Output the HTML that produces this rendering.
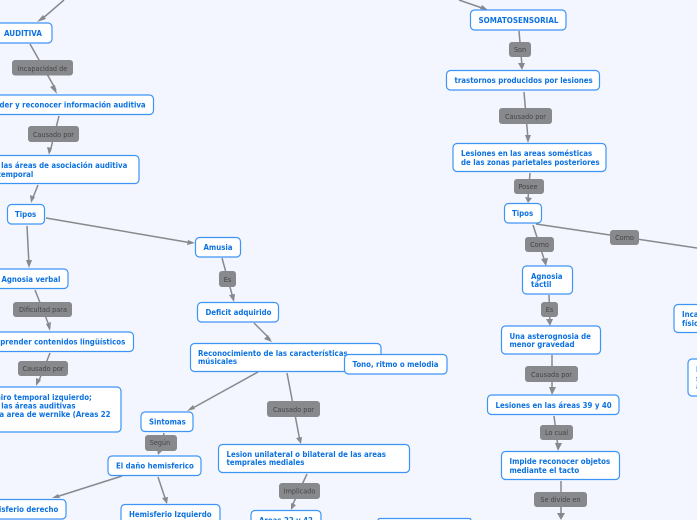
<!DOCTYPE html>
<html><head><meta charset="utf-8">
<style>
html,body{margin:0;padding:0;width:697px;height:520px;overflow:hidden;background:#f3f6ff}
svg{position:absolute;left:0;top:0;overflow:hidden}
.n{fill:#fff;stroke:#3d94f6;stroke-width:1.2}
.t{font-family:"DejaVu Sans",sans-serif;font-weight:bold;font-size:7.8px;fill:#0d72e0}
.t text{transform-box:fill-box;transform-origin:0 0;transform:scaleX(.9)}
.t text.caps{transform:scaleX(.92)}
.l{fill:#88898c}
.x{font-family:"DejaVu Sans",sans-serif;font-size:7px;fill:#444;text-anchor:middle}
.x text{transform-box:fill-box;transform-origin:50% 0;transform:scaleX(.93)}
.c{stroke:#88898c;stroke-width:1.5;fill:none}
.a{fill:#88898c}
</style></head><body>
<svg width="697" height="520" viewBox="0 0 697 520" xmlns="http://www.w3.org/2000/svg">
<g class="c">
<path d="M64 0L42 19"/><path d="M30 44L56 90"/><path d="M59 116L50 152"/><path d="M38 185L32 200"/>
<path d="M46 218L192 243"/><path d="M27 226L29 265"/><path d="M35 290L50 328"/><path d="M50 353L38 383"/>
<path d="M222 258L233 298"/><path d="M254 323L270 339"/><path d="M258 372L191 409"/><path d="M287 373L300 441"/>
<path d="M164 433L160 452"/><path d="M122 476L56 497"/><path d="M158 477L166 501"/><path d="M307 474L292 506"/>
<path d="M459 0L485 9"/><path d="M519 31L522 66"/><path d="M524 92L528 139"/><path d="M530 173L528 199"/>
<path d="M533 225L545 262"/><path d="M536 224L697 248"/><path d="M549 295L550 322"/><path d="M552 355L552 391"/>
<path d="M554 416L558 447"/><path d="M561 481L561 516"/>
</g>
<g class="a">
<polygon points="37,22 43,15 46,19"/><polygon points="57,94 50,87 55,85"/><polygon points="49,155 47,147 52,148"/>
<polygon points="31,203 30,195 35,197"/><polygon points="195,243 187,245 188,240"/><polygon points="29,268 26,260 32,260"/>
<polygon points="50,331 46,324 51,322"/><polygon points="36,386 36,378 41,380"/><polygon points="234,302 229,295 235,294"/>
<polygon points="272,342 264,339 268,335"/><polygon points="187,411 193,405 195,409"/><polygon points="301,444 296,438 302,437"/>
<polygon points="158,455 157,449 163,450"/><polygon points="52,498 58,494 60,498"/><polygon points="167,504 162,498 168,497"/>
<polygon points="291,510 291,503 296,505"/><polygon points="488,10 480,9 482,5"/><polygon points="522,70 518,63 525,63"/>
<polygon points="528,143 525,135 531,135"/><polygon points="528,203 525,197 532,198"/><polygon points="546,266 541,259 548,258"/>
<polygon points="550,326 546,319 553,319"/><polygon points="552,395 549,387 556,387"/><polygon points="558,451 555,443 562,443"/>
<polygon points="561,520 557,513 565,513"/>
</g>
<g class="l">
<rect x="12" y="60" width="61" height="15.500" rx="3"/><rect x="28" y="126" width="51" height="16" rx="3"/>
<rect x="13" y="302" width="59" height="15" rx="3"/><rect x="18" y="361" width="50" height="15" rx="3"/>
<rect x="219" y="271" width="17" height="16" rx="3"/><rect x="267" y="401" width="53" height="16" rx="3"/>
<rect x="145" y="435" width="32" height="16" rx="3"/><rect x="279" y="483" width="41" height="16" rx="3"/>
<rect x="509" y="42" width="22" height="15" rx="3"/><rect x="499" y="108" width="53" height="16" rx="3"/>
<rect x="514" y="179" width="30" height="15" rx="3"/><rect x="525" y="237" width="29" height="15" rx="3"/>
<rect x="610" y="230" width="29" height="15" rx="3"/><rect x="541" y="302" width="17" height="15" rx="3"/>
<rect x="525" y="366" width="53" height="16" rx="3"/><rect x="540" y="425" width="33" height="15" rx="3"/>
<rect x="534" y="492" width="53" height="15" rx="3"/>
</g>
<g class="x">
<text x="42.500" y="71">Incapacidad de</text><text x="53.500" y="137">Causado por</text>
<text x="43" y="312">Dificultad para</text><text x="43" y="371">Causado por</text>
<text x="227.500" y="282">Es</text><text x="293.500" y="412">Causado por</text>
<text x="160" y="445">Según</text><text x="299.500" y="493.500">Implicado</text>
<text x="520" y="52">Son</text><text x="525.500" y="119">Causado por</text>
<text x="528" y="189">Posee</text><text x="539.500" y="247">Como</text>
<text x="624.500" y="240">Como</text><text x="549.500" y="312">Es</text>
<text x="551.500" y="377">Causada por</text><text x="556.500" y="435">Lo cual</text>
<text x="560.500" y="502">Se divide en</text>
</g>
<g class="n">
<rect x="-20" y="23" width="72" height="20" rx="4"/><rect x="-40" y="95" width="193.500" height="19.500" rx="4"/>
<rect x="-60" y="155.500" width="199" height="28" rx="4"/><rect x="7.500" y="204.500" width="37" height="19.500" rx="4"/>
<rect x="195.500" y="237.500" width="45" height="19.500" rx="4"/><rect x="-30" y="269" width="98" height="19.500" rx="4"/>
<rect x="-40" y="332" width="173.500" height="19.500" rx="4"/><rect x="-60" y="387" width="181" height="45" rx="4"/>
<rect x="141" y="412" width="52" height="19.500" rx="4"/><rect x="108" y="456" width="93" height="19.500" rx="4"/>
<rect x="-40" y="499.500" width="106" height="19.500" rx="4"/>
<path d="M121 520V508.500a4 4 0 0 1 4-4H216a4 4 0 0 1 4 4V520"/>
<rect x="197.500" y="302.500" width="81" height="19.500" rx="4"/><rect x="190.500" y="343.500" width="190.500" height="28" rx="4"/>
<rect x="218.500" y="444.500" width="191" height="28" rx="4"/>
<path d="M251 520V514.500a4 4 0 0 1 4-4H317a4 4 0 0 1 4 4V520"/>
<path d="M378 520A2 2 0 0 1 380 518.500H469A2 2 0 0 1 471 520"/>
<rect x="470.500" y="10" width="95.500" height="20" rx="4"/><rect x="446.500" y="70.500" width="153" height="19.500" rx="4"/>
<rect x="453" y="143.500" width="153" height="28" rx="4"/><rect x="504.500" y="203.500" width="37" height="19.500" rx="4"/>
<rect x="522.500" y="266" width="50" height="28" rx="4"/><rect x="501.500" y="326" width="99" height="28" rx="4"/>
<rect x="487.500" y="395" width="131.500" height="19.500" rx="4"/><rect x="501.500" y="451.500" width="118" height="28" rx="4"/>
<rect x="674" y="304.500" width="50" height="28" rx="4"/><rect x="688" y="359" width="40" height="37" rx="4"/>
</g>
<g class="t">
<text class="caps" x="4" y="36">AUDITIVA</text><text x="-36" y="107.500">Comprender y reconocer información auditiva</text>
<text x="-48" y="168">Lesiones en las áreas de asociación auditiva</text><text x="-44" y="177">del lóbulo temporal</text>
<text x="15" y="217">Tipos</text><text x="203.500" y="250">Amusia</text>
<text x="1.500" y="282">Agnosia verbal</text><text x="-17" y="344.500">Comprender contenidos lingüísticos</text>
<text x="-5" y="400">Giro temporal izquierdo;</text><text x="-11" y="408.500">en las áreas auditivas</text><text x="-10" y="417">y la area de wernike (Areas 22</text>
<text x="149" y="424.500">Sintomas</text><text x="116" y="468.500">El daño hemisferico</text>
<text x="-19" y="512">Hemisferio derecho</text><text x="129" y="517">Hemisferio Izquierdo</text>
<text x="205.500" y="315">Deficit adquirido</text><text x="198" y="356">Reconocimiento de las características</text><text x="198" y="364">músicales</text>
</g>
<rect class="n" x="344.500" y="354.500" width="102.500" height="19.500" rx="4"/>
<g class="t">
<text x="352.500" y="367">Tono, ritmo o melodia</text>
<text x="226.500" y="457">Lesion unilateral o bilateral de las areas</text><text x="226.500" y="465">temprales mediales</text>
<text x="259" y="523">Areas 22 y 42</text>
<text class="caps" x="478.500" y="23">SOMATOSENSORIAL</text><text x="454.500" y="83">trastornos producidos por lesiones</text>
<text x="461" y="156">Lesiones en las areas somésticas</text><text x="461" y="165">de las zonas parietales posteriores</text>
<text x="512" y="216">Tipos</text><text x="531" y="279">Agnosia</text><text x="531" y="287">táctil</text>
<text x="509.500" y="339">Una asterognosia de</text><text x="509.500" y="347">menor gravedad</text>
<text x="495.500" y="408">Lesiones en las áreas 39 y 40</text>
<text x="509.500" y="464">Impide reconocer objetos</text><text x="509.500" y="473">mediante el tacto</text>
<text x="682" y="317">Incapacidad</text><text x="682" y="326">física</text>
<text x="696" y="372">I</text><text x="696" y="381">s</text><text x="696" y="389">a</text>
</g>
</svg>
</body></html>
